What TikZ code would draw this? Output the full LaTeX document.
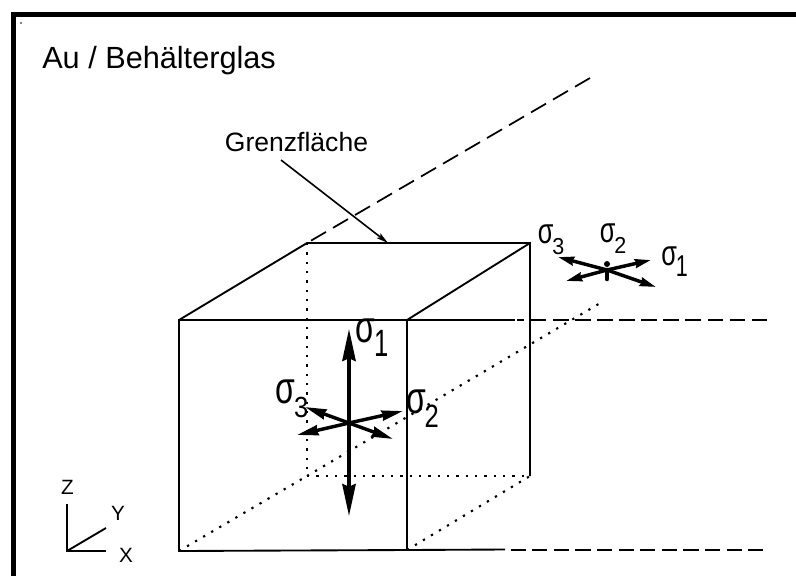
\documentclass[tikz,border=0pt]{standalone}
\usepackage{fontspec}
\setmainfont{Liberation Sans}
\usetikzlibrary{arrows.meta}
\newcommand{\sigl}[3]{\scalebox{1}[1.4]{σ\raisebox{-0.32em}{\kern-0.04em\scalebox{#1}[#2]{#3}}}}
\tikzset{
  x=0.75pt,y=-0.75pt,
  frameline/.style={line width=3.9pt,line cap=butt},
  edge/.style={line width=1.4pt},
  dotline/.style={line width=1.6pt,dash pattern=on 1.7pt off 5.3pt},
  dashline/.style={line width=1.5pt,dash pattern=on 11.6pt off 4.95pt},
  diagdash/.style={line width=1.3pt,dash pattern=on 13pt off 6.1pt},
  leader/.style={line width=1.2pt,-{Stealth[length=9pt,width=4.5pt,inset=2pt]}},
  bigarrow/.style={line width=2.5pt,-{Stealth[length=24pt,width=10pt,inset=2pt]}},
  midarrow/.style={line width=2.6pt,-{Stealth[length=16pt,width=7.5pt,inset=1pt]}},
  smallarrow/.style={line width=2.6pt,-{Stealth[length=12pt,width=6.5pt,inset=1pt]}},
  title/.style={inner sep=0pt,font=\fontsize{23pt}{26pt}\selectfont},
  lab/.style={inner sep=0pt,font=\fontsize{19.9pt}{23pt}\selectfont},
  axislab/.style={inner sep=0pt,font=\fontsize{15.5pt}{18pt}\selectfont},
  sigbig/.style={inner sep=0pt,font=\fontsize{24pt}{28pt}\selectfont},
  sigsmall/.style={inner sep=0pt,font=\fontsize{19pt}{22pt}\selectfont},
}
\begin{document}
\begin{tikzpicture}
\useasboundingbox (0,0) rectangle (796,576);
% frame
\coordinate (fb) at (13.5,576); \coordinate (fc) at (13.5,14.5); \coordinate (fr) at (796,14.5);
\draw[frameline] (fb) -- (fc);
\draw[frameline] (11,14.5) -- (fr);
\fill (21,23) circle (0.8);
% cube corners
\coordinate (ftl) at (179,320); \coordinate (ftr) at (407,320);
\coordinate (fbl) at (179,551); \coordinate (fbr) at (407,550);
\coordinate (btl) at (307,243); \coordinate (btr) at (530,243);
\coordinate (bbl) at (307,476); \coordinate (bbr) at (530,476);
\draw[edge] (fbl) -- (ftl) -- (ftr) -- (fbr) -- cycle;
\draw[edge] (ftl) -- (btl) -- (btr) -- (bbr);
\draw[edge] (ftr) -- (btr);
\draw[dotline] (btl) -- (bbl);
\draw[dotline] (bbl) -- (bbr);
\draw[dotline] (fbl) -- (bbl);
\draw[dotline] (fbr) -- (bbr);
% extensions
\coordinate (tsolid) at (515,320); \coordinate (tdash) at (517,320); \coordinate (tdash2) at (524,320);
\coordinate (tdash3) at (531,320); \coordinate (tend) at (768,320);
\coordinate (bsolid) at (505,549.5); \coordinate (bdash) at (510.5,549.5); \coordinate (bend) at (768,549.5);
\coordinate (dend) at (590,78);
\coordinate (dotend) at (602,302);
\draw[edge] (ftr) -- (tsolid);
\draw[edge] (tdash) -- (tdash2);
\draw[dashline] (tdash3) -- (tend);
\draw[edge] (fbr) -- (bsolid);
\draw[dashline,dash pattern=on 11.5pt off 4.7pt] (bdash) -- (bend);
\draw[diagdash] (dend) -- (btl);
\draw[dotline] (bbl) -- (dotend);
% texts
\node[title,anchor=base west] (ttl) at (42,68) {Au / Behälterglas};
\node[lab,anchor=base] (gf) at (296.5,151) {Grenzfläche};
\coordinate (gfs) at (281,160); \coordinate (gftip) at (388,243);
\draw[leader] (gfs) -- (gftip);
% axes
\coordinate (o) at (67,551); \coordinate (az) at (67,504); \coordinate (ay) at (106,528); \coordinate (ax) at (106,551);
\draw[edge] (az) -- (o) -- (ax);
\draw[edge] (o) -- (ay);
\node[axislab] (zl) at (67.5,487) {Z};
\node[axislab] (yl) at (118,513) {Y};
\node[axislab] (xl) at (126,555) {X};
% main stress cross
\coordinate (c) at (349,423);
\coordinate (m1) at (349,329); \coordinate (m1b) at (349,516);
\coordinate (m3a) at (305,407); \coordinate (m3b) at (393,439);
\coordinate (m2a) at (297,435); \coordinate (m2b) at (403,411);
\foreach \t in {m1,m1b} \draw[bigarrow] (c) -- (\t);
\foreach \t in {m3a,m3b,m2a,m2b} \draw[midarrow] (c) -- (\t);
\node[sigbig,anchor=base west] (s1) at (355.5,342) {\sigl{0.8}{0.85}{1}};
\node[sigbig,anchor=base west] (s3) at (275.5,403) {\sigl{0.8}{0.65}{3}};
\node[sigbig,anchor=base west] (s2) at (406,413) {\sigl{0.8}{0.72}{2}};
% small stress cross
\coordinate (d) at (607,270);
\coordinate (n1) at (558,257); \coordinate (n1b) at (656,287);
\coordinate (n2) at (566,281); \coordinate (n2b) at (651,260);
\foreach \t in {n1,n1b,n2,n2b} \draw[smallarrow] (d) -- (\t);
\coordinate (v1) at (607,264); \coordinate (v2) at (607,279);
\fill (v1) circle (3);
\draw[line width=3.4pt,line cap=round] (d) -- (v2);
\node[sigsmall,anchor=base west] (t2) at (599.5,242) {\sigl{0.85}{0.65}{2}};
\node[sigsmall,anchor=base west] (t3) at (537.5,243) {\sigl{0.85}{0.65}{3}};
\node[sigsmall,anchor=base west] (t1) at (661,265) {\sigl{0.85}{0.85}{1}};
\end{tikzpicture}
\end{document}
